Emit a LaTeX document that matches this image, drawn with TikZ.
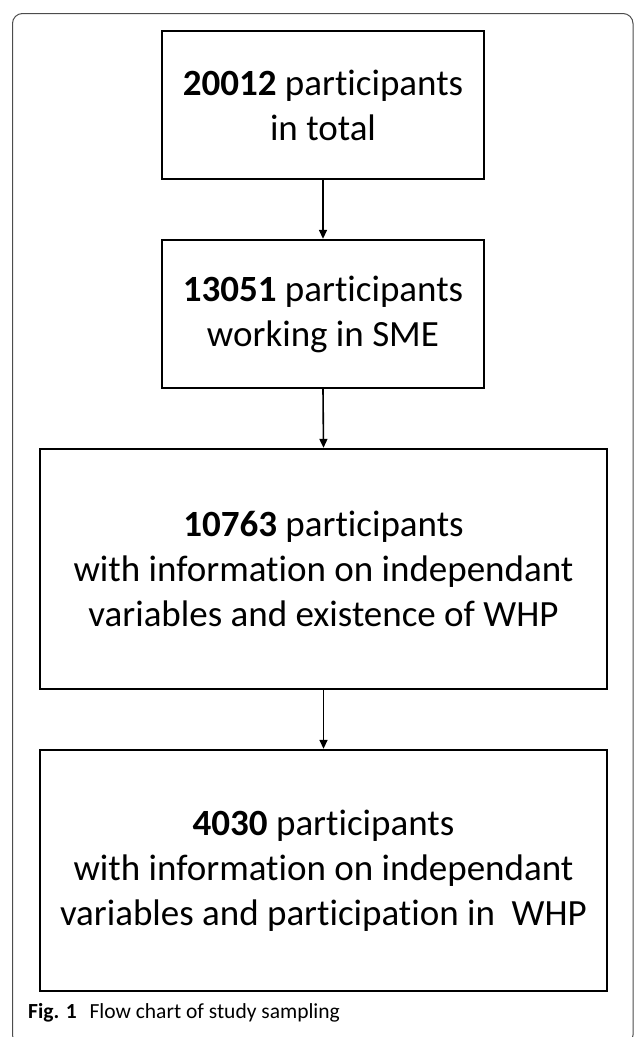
\documentclass[tikz,border=0pt]{standalone}
\usepackage{fontspec}
\setmainfont{Carlito}[Ligatures=NoCommon]
\newfontfamily\capfont{Carlito}[Ligatures=NoCommon]
\usetikzlibrary{arrows.meta}
\begin{document}
\begin{tikzpicture}[x=1pt,y=-1pt,
  flowbox/.style={draw=black, line width=2.4pt, rectangle, align=center,
    inner sep=0pt, font=\fontsize{37}{45}\selectfont},
  flowarrow/.style={line width=1.6pt, -{Triangle[length=9pt,width=8pt]}},
  frame/.style={draw=black!70, line width=1pt, rounded corners=10pt}]
\useasboundingbox (0,0) rectangle (636,1037);
\begin{scope}
\clip (0,0) rectangle (636,1037);
\draw[frame] (12.5,13.5) rectangle (633,1045);
\end{scope}
\node[flowbox, minimum width=322pt, minimum height=148pt] (b1) at (323,105)
  {\textbf{20012} participants\\in total};
\node[flowbox, minimum width=322pt, minimum height=148pt] (b2) at (323,314)
  {\textbf{13051} participants\\working in SME};
\node[flowbox, minimum width=567pt, minimum height=240pt] (b3) at (323.5,569)
  {\textbf{10763} participants\\with information on independant\\variables and existence of WHP};
\node[flowbox, minimum width=567pt, minimum height=241pt] (b4) at (323.5,870.5)
  {\textbf{4030} participants\\with information on independant\\variables and participation in \ WHP};
\draw[flowarrow] (b1.south) -- (b2.north);
\draw[flowarrow] (b2.south) -- (b3.north);
\draw[flowarrow] (b3.south) -- (b4.north);
\node[anchor=base west, inner sep=0pt, font=\capfont\fontsize{21.5}{25}\selectfont] (cap) at (28,1018)
  {\textbf{Fig. 1}\hspace{0.6em}Flow chart of study sampling};
\end{tikzpicture}
\end{document}
